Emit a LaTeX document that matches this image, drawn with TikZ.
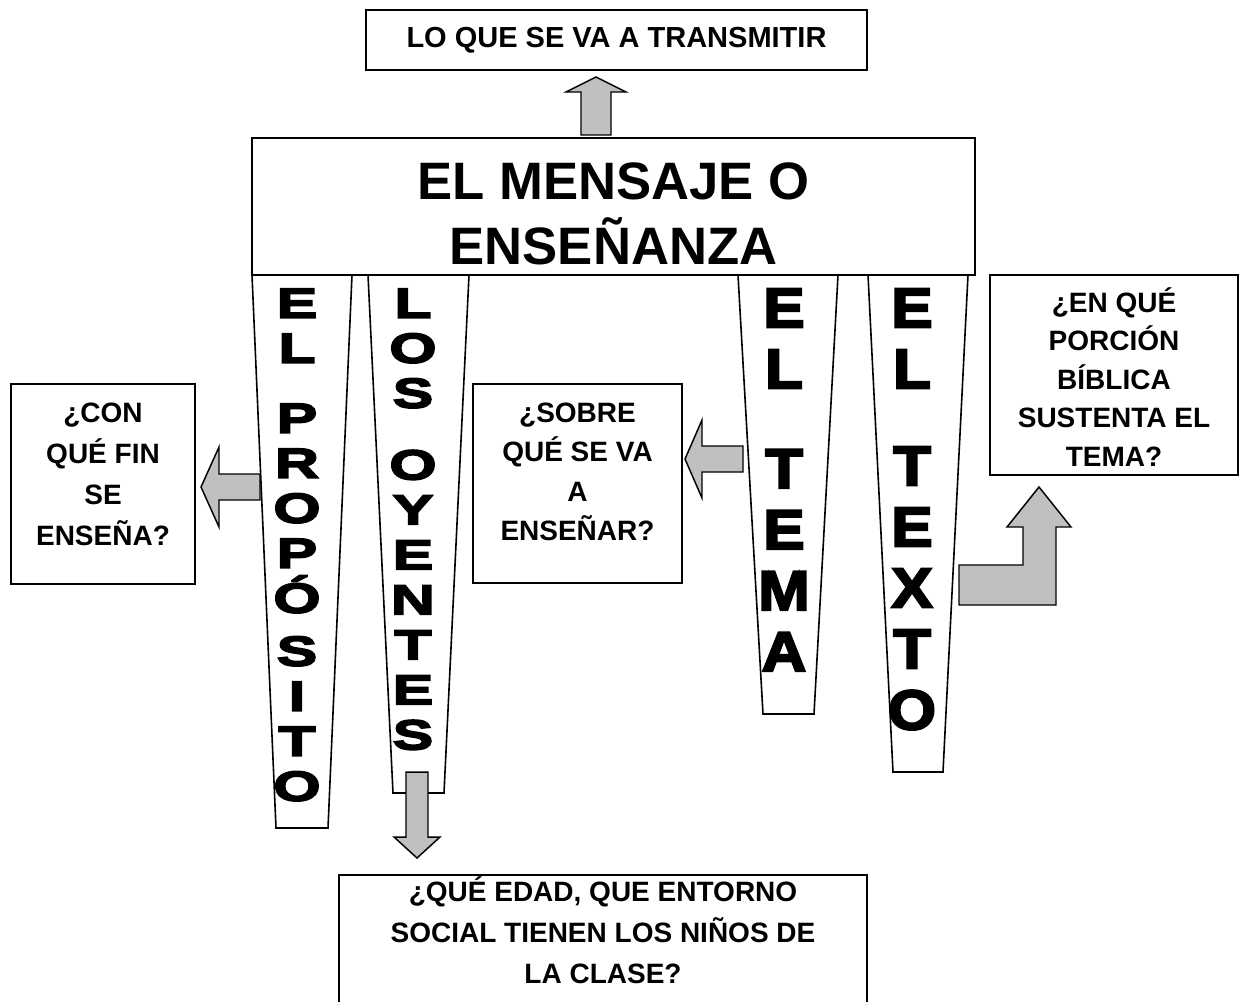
\documentclass[tikz,border=0pt]{standalone}
\usepackage{fontspec}
\setmainfont{Liberation Sans}
\newfontfamily\widefont[FakeBold=4,FakeStretch=1.45]{Liberation Sans}
\newfontfamily\tallfont[FakeBold=4,FakeStretch=1.1]{Liberation Sans}
\definecolor{arrowgray}{RGB}{192,192,192}

\tikzset{every picture/.style={line width=1.2pt}}

\begin{document}
\begin{tikzpicture}[x=0.75pt,y=0.75pt,yscale=-1,xscale=1,
  box/.style={draw, fill=white, inner sep=0pt},
  qtext/.style={font=\bfseries\fontsize{21}{30.75}\selectfont, align=center, inner sep=0pt},
  pillar/.style={draw, fill=white, line join=miter},
  widetext/.style={font=\widefont\bfseries\fontsize{31.5}{33.75}\selectfont, align=center, inner sep=0pt, anchor=north},
  talltext/.style={font=\tallfont\bfseries\fontsize{42}{45.75}\selectfont, align=center, inner sep=0pt, anchor=north},
  blockarrow/.style={draw, fill=arrowgray, line width=1.1pt, line join=miter}]
\useasboundingbox (0,0) rectangle (1245,1001);

%Shapes: boxes
\node[box, minimum width=375.75pt, minimum height=45pt, font=\bfseries\fontsize{21.75}{26}\selectfont] (goal) at (616.5,40) {LO QUE SE VA A TRANSMITIR};
\node[box, minimum width=542.25pt, minimum height=102.75pt] (msg) at (613.5,206.5) {};
\node[box, minimum width=138pt, minimum height=150pt] (fin) at (103,484) {};
\node[box, minimum width=156.75pt, minimum height=149.25pt] (sobre) at (577.5,483.5) {};
\node[box, minimum width=186pt, minimum height=150pt] (porcion) at (1114,375) {};
\node[box, minimum width=396pt, minimum height=105pt] (edad) at (603,945) {};

%Shapes: pillars
\draw[pillar] (252,275) -- (352,275) -- (328,828) -- (276,828) -- cycle ;
\draw[pillar] (368,275) -- (469,275) -- (444,793) -- (393,793) -- cycle ;
\draw[pillar] (738,275) -- (838,275) -- (814,714) -- (763,714) -- cycle ;
\draw[pillar] (868,275) -- (968,275) -- (943,772) -- (893,772) -- cycle ;

%Block arrows
\draw[blockarrow] (581,135) -- (581,92) -- (566,92) -- (596,77) -- (626,92) -- (611,92) -- (611,135) -- cycle ;
\draw[blockarrow] (260,474) -- (219,474) -- (219,447) -- (201,487) -- (219,527) -- (219,500) -- (260,500) -- cycle ;
\draw[blockarrow] (743,446) -- (702,446) -- (702,420) -- (685,459) -- (702,498) -- (702,472) -- (743,472) -- cycle ;
\draw[blockarrow] (406,772) -- (428,772) -- (428,837) -- (440,837) -- (417,858) -- (394,837) -- (406,837) -- cycle ;
\draw[blockarrow] (959,565) -- (1023,565) -- (1023,527) -- (1007,527) -- (1039,487) -- (1071,527) -- (1056,527) -- (1056,605) -- (959,605) -- cycle ;

% Text Node
\node[font=\bfseries\fontsize{39.5}{48.75}\selectfont, align=center, inner sep=0pt] (msgText) at (613.5,213.5) {EL MENSAJE O\\ENSEÑANZA};
% Text Node
\node[qtext] (finText) at (103,474.5) {¿CON\\QUÉ FIN\\SE\\ENSEÑA?};
% Text Node
\node[qtext, font=\bfseries\fontsize{21}{29.6}\selectfont] (sobreText) at (577.5,472) {¿SOBRE\\QUÉ SE VA\\A\\ENSEÑAR?};
% Text Node
\node[qtext, font=\bfseries\fontsize{21}{28.9}\selectfont] (porcionText) at (1114,377) {¿EN QUÉ\\PORCIÓN\\BÍBLICA\\SUSTENTA EL\\TEMA?};
% Text Node
\node[qtext] (edadText) at (603,930.5) {¿QUÉ EDAD, QUE ENTORNO\\SOCIAL TIENEN LOS NIÑOS DE\\LA CLASE?};

% Text Node
\node[widetext] (propText) at (297,288) {E\\L\\[18.75pt]P\\R\\O\\P\\Ó\\[6pt]S\\I\\T\\O};
% Text Node
\node[widetext] (oyenText) at (413,288) {L\\O\\S\\[20pt]O\\Y\\E\\N\\T\\E\\S};
% Text Node
\node[talltext] (temaText) at (784,288) {E\\L\\[29pt]T\\E\\M\\A};
% Text Node
\node[talltext] (textoText) at (912,288) {E\\L\\[27pt]T\\E\\X\\T\\O};

\end{tikzpicture}
\end{document}
